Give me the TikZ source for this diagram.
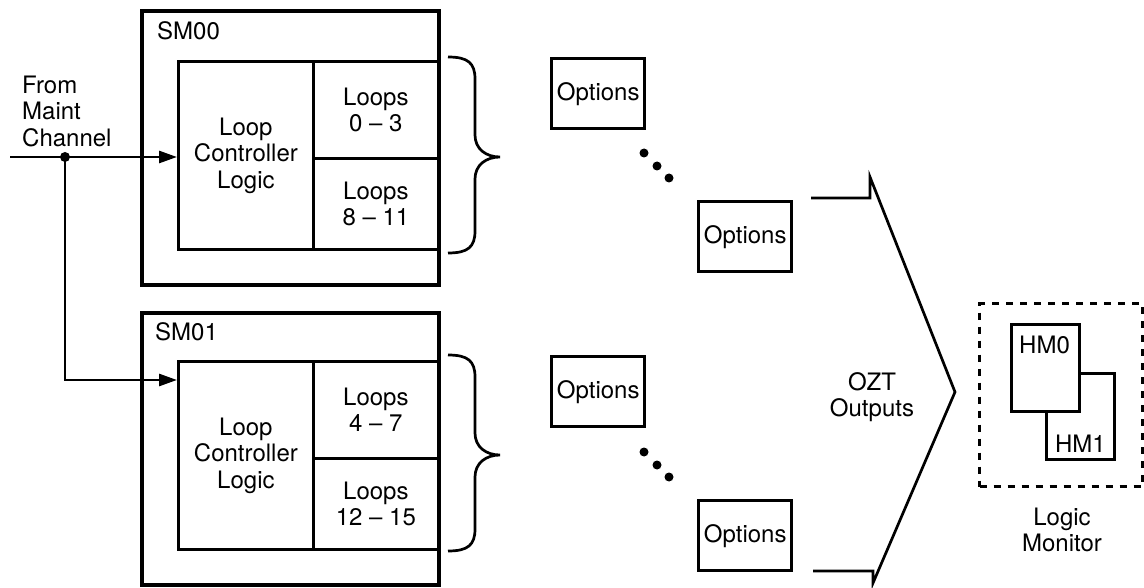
\documentclass[tikz,border=0pt]{standalone}
\usepackage{fontspec}
\setmainfont{TeX Gyre Heros}
\usetikzlibrary{arrows.meta}
\begin{document}
\begin{tikzpicture}[x=1pt,y=-1pt,
  font=\fontsize{24}{26.5}\selectfont,
  outer/.style={draw, line width=3.6pt, inner sep=0pt, anchor=north west},
  cell/.style={draw, line width=2.8pt, inner sep=0pt, anchor=north west, align=center},
  optbox/.style={draw, line width=3.4pt, inner sep=0pt, anchor=north west, minimum width=93pt, minimum height=70pt},
  wire/.style={line width=2.7pt},
  arr/.style={wire, -{Triangle[length=18pt,width=12pt]}},
  jdot/.style={circle, fill, inner sep=0pt, minimum size=10pt},
  ddot/.style={circle, fill, inner sep=0pt, minimum size=9pt},
  lbl/.style={inner sep=0pt},
  bracepic/.pic={\draw[wire] (0,0) .. controls (20,0) and (27,6) .. (27,22) -- (27,78) .. controls (27,92) and (38,100) .. (52,100) .. controls (38,100) and (27,108) .. (27,122) -- (27,174) .. controls (27,190) and (20,196) .. (0,196);}
]
\useasboundingbox (0,0) rectangle (1144,588);

% SM00
\node[outer, minimum width=297pt, minimum height=274pt] (sm0) at (140,9) {};
\node[lbl, anchor=west] (sm0l) at (157,31) {SM00};
\node[cell, minimum width=135pt, minimum height=188pt] (lcl0) at (177,60) {Loop\\Controller\\Logic};
\node[cell, minimum width=125pt, minimum height=97pt] (la) at (312,60) {Loops\\0 – 3};
\node[cell, minimum width=125pt, minimum height=91pt] (lb) at (312,157) {Loops\\8 – 11};

% SM01
\node[outer, minimum width=297pt, minimum height=272pt] (sm1) at (140,311) {};
\node[lbl, anchor=west] (sm1l) at (155,332) {SM01};
\node[cell, minimum width=135pt, minimum height=188pt] (lcl1) at (177,360) {Loop\\Controller\\Logic};
\node[cell, minimum width=125pt, minimum height=97pt] (lc) at (312,360) {Loops\\4 – 7};
\node[cell, minimum width=125pt, minimum height=91pt] (ld) at (312,457) {Loops\\12 – 15};

% input
\node[lbl, anchor=west, align=left] (from) at (22,111) {From\\Maint\\Channel};
\coordinate (in) at (10,157);
\node[jdot] (j) at (65,157) {};
\draw[arr] (in) -- (lcl0.west |- in);
\draw[arr] (j.center) |- ([yshift=-20pt]lcl1.north west);

% braces
\pic at (448,57) {bracepic};
\pic at (448,355) {bracepic};

% options
\node[optbox] (o1) at (550,57) {Options};
\node[optbox] (o2) at (697,200) {Options};
\node[optbox] (o3) at (550,355) {Options};
\node[optbox] (o4) at (697,499) {Options};
\node[ddot] (d1) at (644,153) {};
\node[ddot] (d2) at (657,166) {};
\node[ddot] (d3) at (669,178) {};
\node[ddot] (d4) at (644,452) {};
\node[ddot] (d5) at (657,465) {};
\node[ddot] (d6) at (669,477) {};

% OZT outputs arrow
\coordinate (a1) at (811,198);
\coordinate (a2) at (870,198);
\coordinate (a3) at (870,177);
\coordinate (tip) at (955,392);
\coordinate (a4) at (873,583);
\coordinate (a5) at (873,571);
\coordinate (a6) at (813,571);
\draw[wire, line join=miter] (a1) -- (a2) -- (a3) -- (tip) -- (a4) -- (a5) -- (a6);
\node[align=center] (ozt) at (872,397) {OZT\\Outputs};

% logic monitor
\node[draw, line width=3.4pt, dash pattern=on 7pt off 7pt, inner sep=0pt, anchor=north west, minimum width=163pt, minimum height=183pt] (lm) at (978,302) {};
\node[cell, minimum width=68pt, minimum height=86pt] (hm1) at (1045,372) {};
\node[cell, fill=white, minimum width=68pt, minimum height=87pt] (hm0) at (1010,323) {};
\node[lbl, anchor=north west] (hm0l) at (1019,336) {HM0};
\node[lbl, anchor=base east] (hm1l) at (1106,452) {HM1};
\node[align=center] (lmt) at (1062,530) {Logic\\Monitor};
\end{tikzpicture}
\end{document}
